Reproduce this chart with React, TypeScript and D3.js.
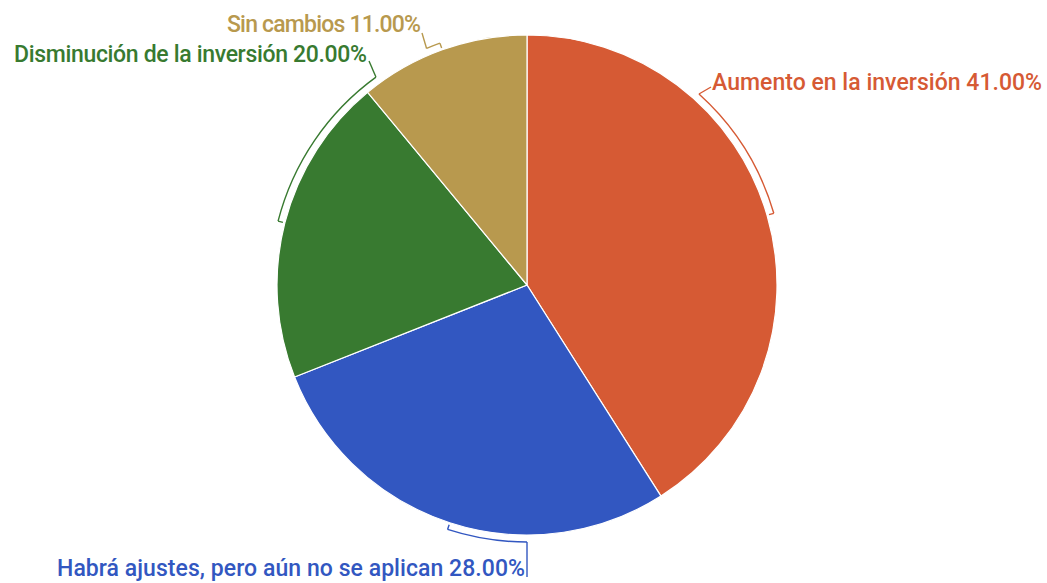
import React from "react";
import * as d3 from "d3";

const categories = [
  "Aumento en la inversión",
  "Habrá ajustes, pero aún no se aplican",
  "Disminución de la inversión",
  "Sin cambios",
];
const values = [41, 28, 20, 11];
const colors = ["#D65A34", "#3257C1", "#387A30", "#B8994E"];

// layout (not data)
const W = 1047, H = 583;
const CX = 527, CY = 285, R = 250;
const labelLayout = [
  { angleDeg: 42, x: 712, y: 90, anchor: "start", lx: 711, ly: 87, len: 330 },
  { angleDeg: 180, x: 525, y: 576, anchor: "end", lx: 527, ly: 577, len: 468 },
  { angleDeg: 324, x: 367, y: 62, anchor: "end", lx: 369, ly: 61, len: 353 },
  { angleDeg: 337, x: 421, y: 32, anchor: "end", lx: 422, ly: 33, len: 194 },
];

export default function App() {
  const pie = d3.pie<number>().sort(null).value((d) => d);
  const arcs = pie(values);
  const arcGen = d3.arc<d3.PieArcDatum<number>>().innerRadius(0).outerRadius(R);
  const total = d3.sum(values);
  const rb = R + 7, rt = R + 2;
  const pt = (a: number, r: number) => [CX + r * Math.sin(a), CY - r * Math.cos(a)];

  return (
    <svg width={W} height={H} style={{ position: "absolute", left: 0, top: 0 }}
      fontFamily="Roboto, sans-serif">
      <g transform={`translate(${CX},${CY})`}>
        {arcs.map((a, i) => (
          <path key={i} d={arcGen(a) as string} fill={colors[i]} stroke="#fff" strokeWidth={1.2} />
        ))}
      </g>
      {arcs.map((a, i) => {
        const mid = (a.startAngle + a.endAngle) / 2;
        const la = (labelLayout[i].angleDeg * Math.PI) / 180;
        const s = Math.min(mid, la), e = Math.max(mid, la);
        const bracket = d3.arc()({ innerRadius: rb, outerRadius: rb, startAngle: s, endAngle: e } as any);
        const [mx1, my1] = pt(mid, rt);
        const [mx2, my2] = pt(mid, rb);
        const [lx1, ly1] = pt(la, rb);
        const L = labelLayout[i];
        const pct = ((values[i] / total) * 100).toFixed(2) + "%";
        return (
          <g key={i} stroke={colors[i]} fill="none" strokeWidth={1.4}>
            <g transform={`translate(${CX},${CY})`}>
              <path d={bracket as string} />
            </g>
            <line x1={mx1} y1={my1} x2={mx2} y2={my2} />
            <line x1={lx1} y1={ly1} x2={L.lx} y2={L.ly} />
            <text x={L.x} y={L.y} textAnchor={L.anchor as any} fill={colors[i]} stroke="none"
              fontSize={23} fontWeight={500} textLength={L.len} lengthAdjust="spacing">
              {categories[i]} {pct}
            </text>
          </g>
        );
      })}
    </svg>
  );
}
